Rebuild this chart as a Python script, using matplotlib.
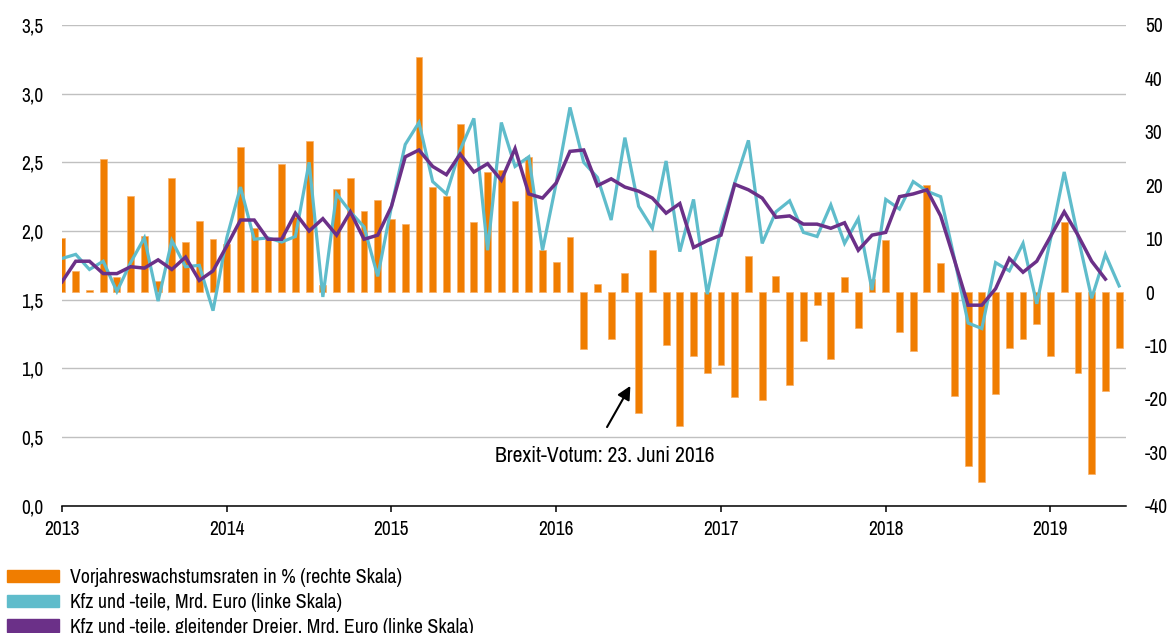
import numpy as np
import matplotlib
matplotlib.use("Agg")
import matplotlib.pyplot as plt
from matplotlib.patches import Patch
from matplotlib.ticker import FuncFormatter

plt.rcParams['font.family'] = ['Archivo Narrow', 'Liberation Sans Narrow', 'DejaVu Sans']
plt.rcParams['axes.unicode_minus'] = False

# monthly data, Jan 2013 - Jun 2019
years = ['2013', '2014', '2015', '2016', '2017', '2018', '2019']

# Vorjahreswachstumsraten in % (right axis)
growth = [10.2, 3.9, 0.3, 25.0, 2.8, 17.9, 10.5, 2.1, 21.3, 9.4, 13.3, 9.9,
          9.0, 27.1, 12.0, 10.0, 23.9, 14.1, 28.2, 1.4, 19.3, 21.3, 15.1, 17.2,
          13.6, 12.7, 44.0, 19.7, 17.9, 31.5, 13.1, 22.5, 22.9, 17.0, 25.3, 7.9,
          5.7, 10.4, -10.6, 1.6, -8.7, 3.6, -22.6, 7.9, -10.0, -25.0, -11.9, -15.1,
          -13.7, -19.7, 6.7, -20.3, 3.0, -17.4, -9.1, -2.4, -12.6, 2.8, -6.7, 2.4,
          9.7, -7.4, -11.1, 20.0, 5.4, -19.5, -32.5, -35.5, -19.0, -10.5, -8.7, -5.9,
          -11.9, 13.2, -15.2, -34.0, -18.5, -10.4]

# Kfz und -teile, Mrd. Euro (left axis)
kfz = [1.80, 1.83, 1.72, 1.78, 1.56, 1.77, 1.95, 1.49, 1.93, 1.74, 1.75, 1.42,
       1.95, 2.32, 1.94, 1.95, 1.92, 1.96, 2.50, 1.52, 2.27, 2.14, 2.03, 1.67,
       2.18, 2.63, 2.79, 2.36, 2.27, 2.59, 2.82, 1.86, 2.79, 2.47, 2.54, 1.86,
       2.35, 2.90, 2.50, 2.39, 2.08, 2.68, 2.18, 2.02, 2.51, 1.85, 2.23, 1.54,
       2.02, 2.35, 2.66, 1.91, 2.14, 2.22, 1.99, 1.96, 2.19, 1.91, 2.09, 1.57,
       2.23, 2.16, 2.36, 2.29, 2.25, 1.80, 1.33, 1.29, 1.77, 1.71, 1.91, 1.47,
       1.94, 2.43, 1.96, 1.51, 1.83, 1.60]

# gleitender Dreier (left axis), ends one month earlier
kfz_avg = [1.63, 1.78, 1.78, 1.69, 1.69, 1.74, 1.73, 1.79, 1.72, 1.81, 1.64, 1.71,
           1.89, 2.08, 2.08, 1.94, 1.94, 2.13, 2.00, 2.09, 1.97, 2.14, 1.94, 1.97,
           2.18, 2.54, 2.59, 2.47, 2.41, 2.56, 2.43, 2.49, 2.37, 2.60, 2.27, 2.24,
           2.35, 2.58, 2.59, 2.33, 2.38, 2.32, 2.29, 2.24, 2.13, 2.20, 1.88, 1.93,
           1.97, 2.34, 2.30, 2.24, 2.10, 2.11, 2.05, 2.05, 2.02, 2.06, 1.86, 1.97,
           1.99, 2.25, 2.27, 2.30, 2.11, 1.79, 1.46, 1.46, 1.58, 1.80, 1.70, 1.78,
           1.96, 2.14, 1.97, 1.78, 1.65]

labels = ['Vorjahreswachstumsraten in % (rechte Skala)',
          'Kfz und -teile, Mrd. Euro (linke Skala)',
          'Kfz und -teile, gleitender Dreier, Mrd. Euro (linke Skala)']

ORANGE = '#f07d00'
CYAN = '#5fbccb'
PURPLE = '#6b3088'

x = np.arange(len(growth))

fig = plt.figure(figsize=(11.73, 6.33), dpi=100)
ax = fig.add_axes([62 / 1173, 1 - 505.7 / 633, 1064 / 1173, 480.7 / 633])
ax_bar = ax.twinx()
ax_line = ax.twinx()

# left scale + grid
ax.set_ylim(0, 3.5)
ax.set_yticks(np.arange(0, 3.51, 0.5))
ax.yaxis.set_major_formatter(FuncFormatter(lambda v, p: f'{v:.1f}'.replace('.', ',')))
ax.yaxis.grid(True, color='#c0c0c0', lw=1.0)
ax.set_axisbelow(True)
ax.tick_params(axis='y', length=0, pad=13.5, labelsize=14)
ax.set_xlim(0, 77.5)
ax.set_xticks(np.arange(len(years)) * 12)
ax.set_xticklabels(years)
ax.tick_params(axis='x', direction='out', length=4.5, width=1.1, pad=6, labelsize=14)
for s in ['top', 'left', 'right']:
    ax.spines[s].set_visible(False)
ax.spines['bottom'].set_color('black')
ax.spines['bottom'].set_linewidth(1.1)

# bars on right scale
ax_bar.bar(x, growth, width=0.5, color=ORANGE, edgecolor='#f8b068', linewidth=0.5)
ax_bar.set_ylim(-40, 50)
ax_bar.set_yticks(np.arange(-40, 51, 10))
ax_bar.tick_params(axis='y', length=0, pad=13.5, labelsize=14)
for s in ax_bar.spines.values():
    s.set_visible(False)

# lines on left scale, drawn on top
ax_line.plot(x, kfz, color=CYAN, lw=2.3, solid_joinstyle='miter')
ax_line.plot(x[:len(kfz_avg)], kfz_avg, color=PURPLE, lw=2.5, solid_joinstyle='miter')
ax_line.set_ylim(0, 3.5)
ax_line.set_yticks([])
for s in ax_line.spines.values():
    s.set_visible(False)

# annotation
ax_line.annotate('', xy=(41.5, 0.89), xytext=(39.6, 0.555),
                 arrowprops=dict(arrowstyle='-|>', color='black', lw=1.5, mutation_scale=20))
ax_line.text(39.5, 0.36, 'Brexit-Votum: 23. Juni 2016', ha='center', va='center',
             fontsize=15.5)

handles = [Patch(color=ORANGE), Patch(color=CYAN), Patch(color=PURPLE)]
fig.legend(handles, labels, loc='upper left', bbox_to_anchor=(7 / 1173, 1 - 568 / 633),
           frameon=False, fontsize=14.3, handlelength=2.6, handleheight=0.62,
           handletextpad=0.55, labelspacing=0.3, borderpad=0, borderaxespad=0)

fig.savefig('out.png', dpi=100)
